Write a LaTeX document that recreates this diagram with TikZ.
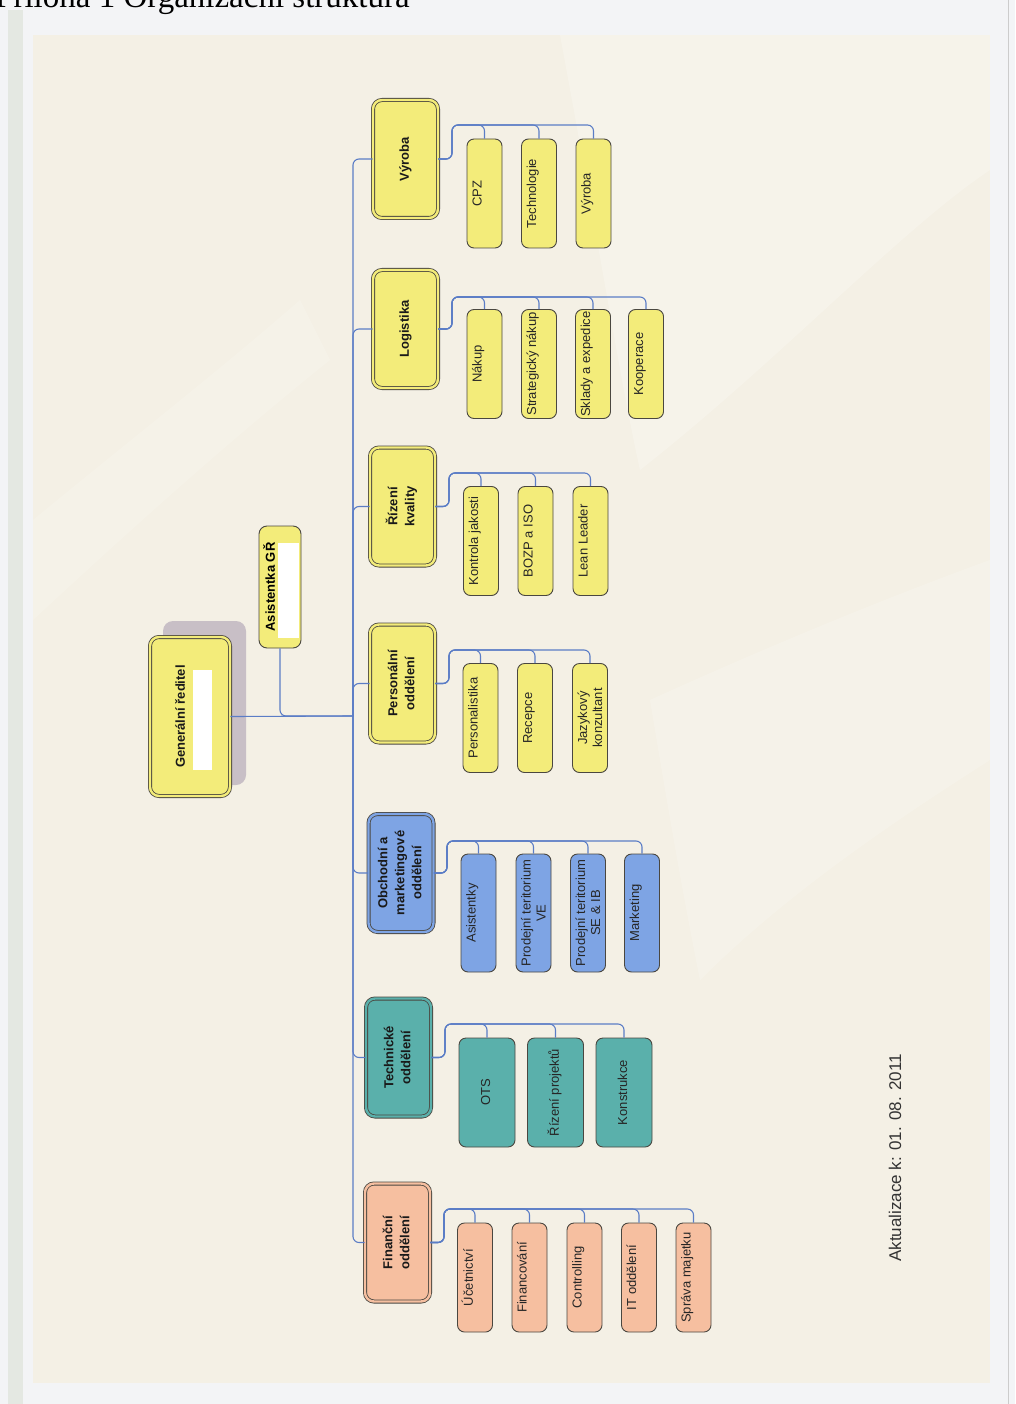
\documentclass[tikz,border=0pt]{standalone}
\usepackage{fontspec}
\setmainfont{Liberation Sans}
\newfontfamily\capfont{Liberation Serif}
\usepackage{graphicx}
\usetikzlibrary{calc}
\definecolor{yel}{HTML}{F3EC7A}
\definecolor{blu}{HTML}{7EA4E4}
\definecolor{teal}{HTML}{5AB0AB}
\definecolor{salm}{HTML}{F6BFA0}
\definecolor{bord}{HTML}{4A4740}
\definecolor{conncol}{HTML}{5B7DC6}
\definecolor{pagecol}{HTML}{F4F0E5}
\definecolor{outercol}{HTML}{F3F4F6}
\definecolor{stripcol}{HTML}{E4E8E2}
\definecolor{shadowcol}{HTML}{C8BFC6}
\newcommand{\rt}[1]{\rotatebox{90}{\begin{tabular}{@{}c@{}}#1\end{tabular}}}
\newcommand{\st}[1]{\rotatebox{90}{\parbox[c][27pt][t]{90pt}{\makebox[90pt]{\begin{tabular}{@{}c@{}}#1\end{tabular}}}}}
\begin{document}
\begin{tikzpicture}[x=1pt,y=-1pt,
  conn/.style={draw=conncol, line width=1.1pt, rounded corners=6pt},
  dept/.style={draw=bord, line width=0.8pt, double distance=2.4pt, rounded corners=9pt,
    minimum width=65pt, minimum height=118pt, inner sep=0pt,
    font=\bfseries\fontsize{13}{17}\selectfont, text=black!90},
  deptY/.style={dept, fill=yel, double=yel},
  deptB/.style={dept, fill=blu, double=blu},
  deptT/.style={dept, fill=teal, double=teal},
  deptS/.style={dept, fill=salm, double=salm},
  sub/.style={draw=bord, line width=0.9pt, rounded corners=7pt,
    minimum width=35pt, minimum height=109pt, inner sep=0pt,
    font=\fontsize{13}{15}\selectfont, text=black!85},
  subY/.style={sub, fill=yel},
  subB/.style={sub, fill=blu, minimum height=118pt},
  subT/.style={sub, fill=teal, minimum width=56pt},
  subS/.style={sub, fill=salm}]
\useasboundingbox (0,0) rectangle (1015,1404);
% background
\fill[outercol] (0,0) rectangle (1015,1404);
\fill[stripcol] (8,10) rectangle (23,1404);
\fill[pagecol] (33,35) rectangle (990,1383);
\begin{scope}
\clip (33,35) rectangle (990,1383);
\fill[white, opacity=0.22] (560,35) .. controls (600,250) and (620,380) .. (640,470) .. controls (780,360) and (900,230) .. (990,170) -- (990,35) -- cycle;
\fill[white, opacity=0.18] (650,700) .. controls (760,650) and (880,600) .. (990,560) -- (990,760) .. controls (880,830) and (780,900) .. (700,980) .. controls (680,880) and (665,790) .. (650,700) -- cycle;
\fill[white, opacity=0.15] (33,520) .. controls (130,440) and (220,370) .. (300,300) -- (330,360) .. controls (230,440) and (130,530) .. (33,620) -- cycle;
\end{scope}
\draw[gray!40, line width=0.6pt] (1008,0) -- (1008,1404);
% caption (cut off at top)
\node[anchor=base west, inner sep=0pt, font=\capfont\fontsize{33}{36}\selectfont] (cap) at (-5,8) {Příloha 1 Organizační struktura};
% general director
\fill[shadowcol, rounded corners=10pt] (163,621) rectangle (246,785);
\node[dept, fill=yel, double=yel, minimum width=80pt, minimum height=159pt] (gr) at (190,716.5) {\rt{Generální ředitel\\{}}};
\fill[white] (193,670) rectangle (212,770);
\node[draw=bord, line width=0.9pt, rounded corners=8pt, fill=yel, minimum width=42pt, minimum height=122pt, inner sep=0pt,
  font=\bfseries\fontsize{13}{17}\selectfont] (as) at (280,587) {\rt{Asistentka GŘ\\{}}};
\fill[white] (278,543) rectangle (299,638);
% departments
\node[deptY] (vyr) at (405.5,159) {\rt{Výroba}};
\node[deptY] (log) at (405.5,329) {\rt{Logistika}};
\node[deptY] (riz) at (402.5,506.5) {\rt{Řízení\\kvality}};
\node[deptY] (per) at (402.5,683.5) {\rt{Personální\\oddělení}};
\node[deptB] (obch) at (401,873) {\rt{Obchodní a\\marketingové\\oddělení}};
\node[deptT] (tech) at (398.5,1057.5) {\rt{Technické\\oddělení}};
\node[deptS] (fin) at (397.5,1242.5) {\rt{Finanční\\oddělení}};
% sub units
\node[subY] (v1) at (484.5,193.5) {\st{CPZ}};
\node[subY] (v2) at (539,193.5) {\st{Technologie}};
\node[subY] (v3) at (593.5,193.5) {\st{Výroba}};
\node[subY] (l1) at (484.5,364) {\st{Nákup}};
\node[subY] (l2) at (539,364) {\st{Strategický nákup}};
\node[subY] (l3) at (593,364) {\st{Sklady a expedice}};
\node[subY] (l4) at (646,364) {\st{Kooperace}};
\node[subY] (r1) at (481,541) {\st{Kontrola jakosti}};
\node[subY] (r2) at (535.5,541) {\st{BOZP a ISO}};
\node[subY] (r3) at (590.5,541) {\st{Lean Leader}};
\node[subY] (p1) at (480.5,718) {\st{Personalistika}};
\node[subY] (p2) at (535,718) {\st{Recepce}};
\node[subY] (p3) at (590,718) {\st{Jazykový\\konzultant}};
\node[subB] (o1) at (478.5,913) {\st{Asistentky}};
\node[subB] (o2) at (533.5,913) {\st{Prodejní teritorium\\VE}};
\node[subB] (o3) at (588,913) {\st{Prodejní teritorium\\SE \& IB}};
\node[subB] (o4) at (642,913) {\st{Marketing}};
\node[subT] (t1) at (487,1092.5) {\rt{OTS}};
\node[subT] (t2) at (555.5,1092.5) {\rt{Řízení projektů}};
\node[subT] (t3) at (624,1092.5) {\rt{Konstrukce}};
\node[subS] (f1) at (475,1277.5) {\st{Účetnictví}};
\node[subS] (f2) at (529.5,1277.5) {\st{Financování}};
\node[subS] (f3) at (584.5,1277.5) {\st{Controlling}};
\node[subS] (f4) at (639,1277.5) {\st{IT oddělení}};
\node[subS] (f5) at (693.5,1277.5) {\st{Správa majetku}};
% footer
\node[rotate=90, inner sep=0pt, font=\fontsize{17}{20}\selectfont, text=black!80] (upd) at (895,1158) {Aktualizace k: 01. 08. 2011};
% connectors
\coordinate (J) at (353,716);
\draw[conn] (gr.east) -- (J);
\draw[conn] (as.south) |- (J);
\foreach \d in {vyr,log,riz,per,obch,tech,fin} \draw[conn] (J) |- (\d.west);
\coordinate (vk) at (452,125);
\coordinate (lk) at (452,297);
\coordinate (rk) at (449,473);
\coordinate (pk) at (449,650);
\coordinate (ok) at (447,841);
\coordinate (tk) at (445,1024);
\coordinate (fk) at (444,1209);
\foreach \s in {v1,v2,v3} \draw[conn] (vyr.east) -| (vk) -| (\s.north);
\foreach \s in {l1,l2,l3,l4} \draw[conn] (log.east) -| (lk) -| (\s.north);
\foreach \s in {r1,r2,r3} \draw[conn] (riz.east) -| (rk) -| (\s.north);
\foreach \s in {p1,p2,p3} \draw[conn] (per.east) -| (pk) -| (\s.north);
\foreach \s in {o1,o2,o3,o4} \draw[conn] (obch.east) -| (ok) -| (\s.north);
\foreach \s in {t1,t2,t3} \draw[conn] (tech.east) -| (tk) -| (\s.north);
\foreach \s in {f1,f2,f3,f4,f5} \draw[conn] (fin.east) -| (fk) -| (\s.north);
\end{tikzpicture}
\end{document}
